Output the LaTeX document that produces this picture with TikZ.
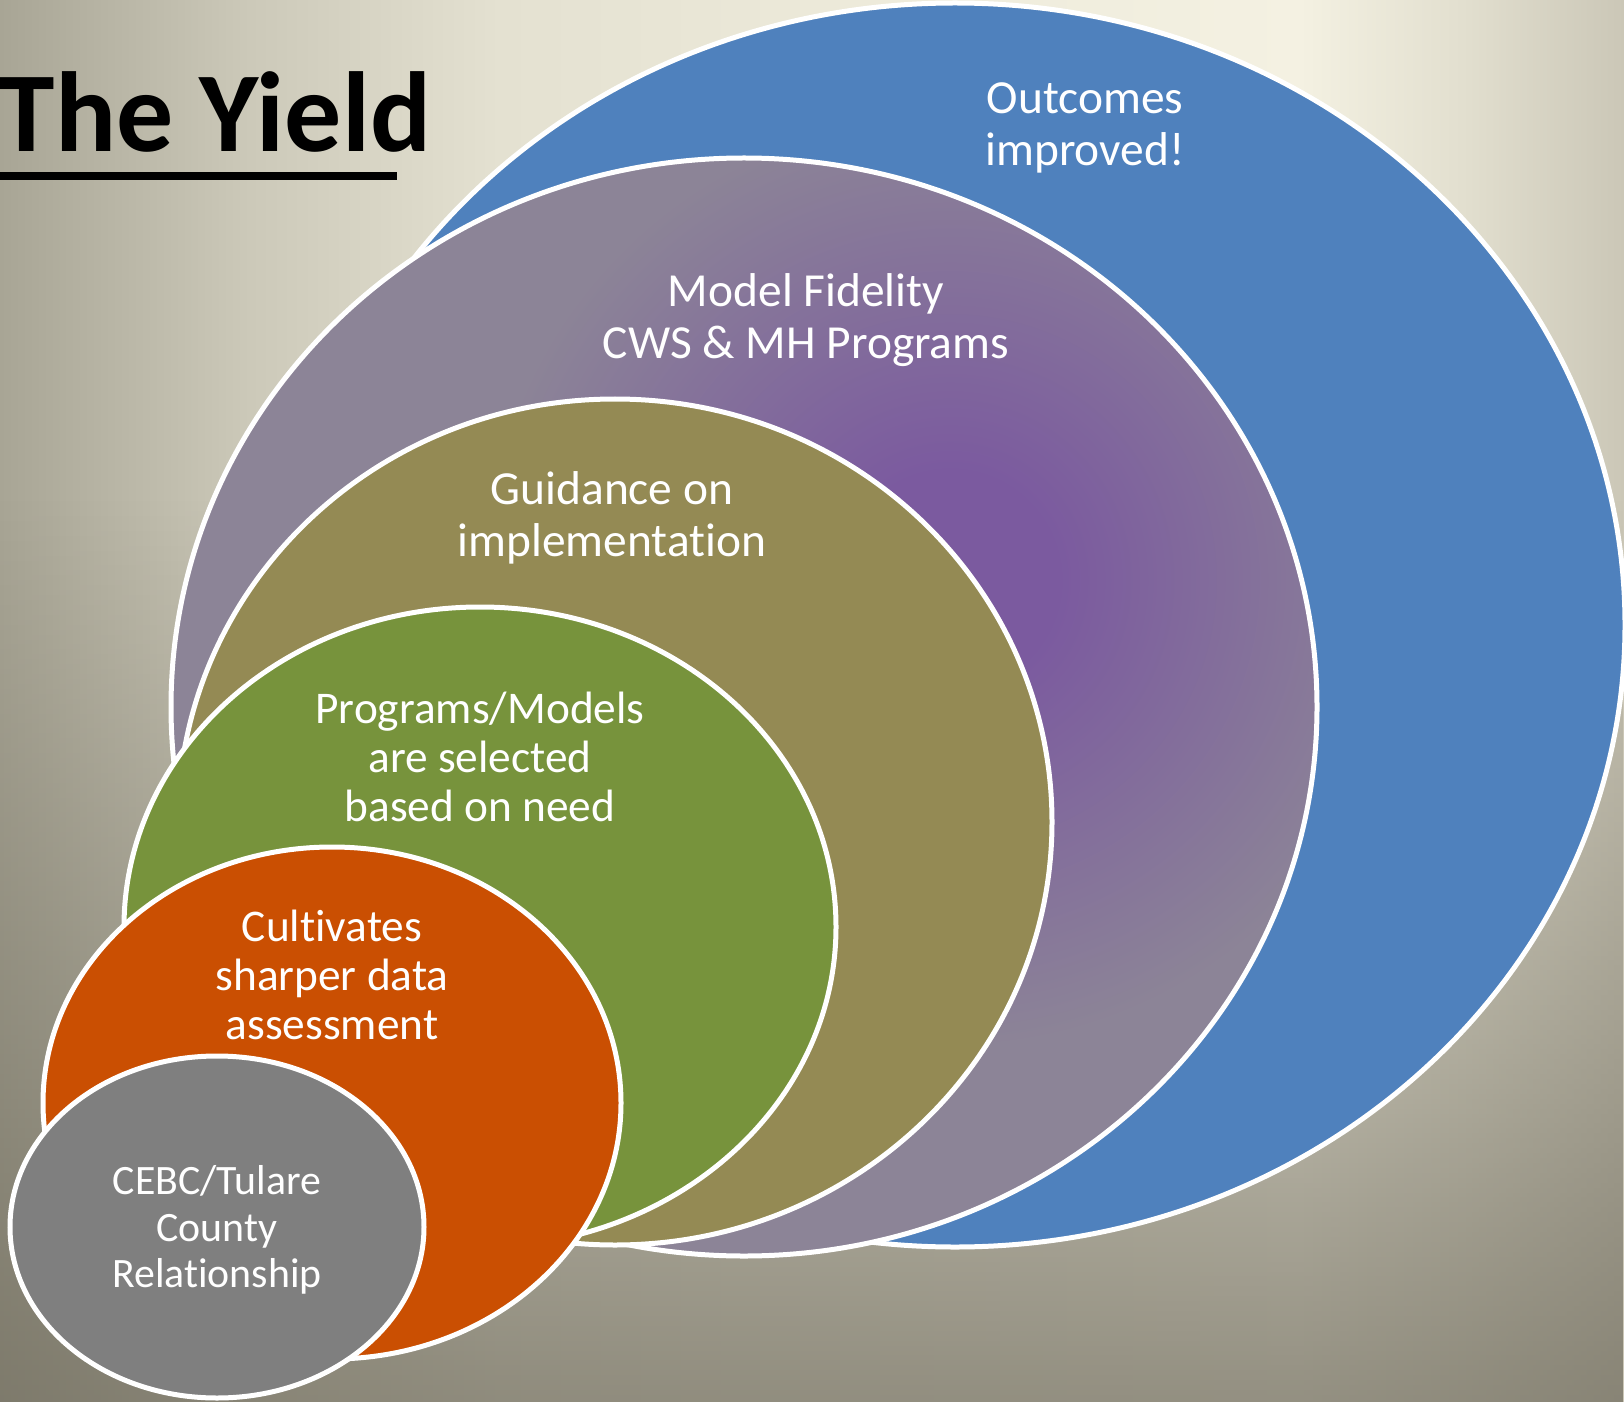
\documentclass[tikz,border=0pt]{standalone}
\usepackage{fontspec}
\setmainfont{Carlito}[Ligatures=NoCommon]
\usetikzlibrary{fadings}
\definecolor{bgA}{HTML}{A8A595}
\definecolor{bgB}{HTML}{CCC9B9}
\definecolor{bgC}{HTML}{E4E1D1}
\definecolor{bgD}{HTML}{EEEBDB}
\definecolor{bgE}{HTML}{F4F1E2}
\definecolor{bgF}{HTML}{E2DFCF}
\definecolor{bgG}{HTML}{CBC7B7}
\definecolor{bgdark}{HTML}{6E6A5C}
\definecolor{cblue}{HTML}{4F81BD}
\definecolor{purpIn}{HTML}{7B5A9F}
\definecolor{purpOut}{HTML}{8C8497}
\definecolor{colive}{HTML}{948A54}
\definecolor{cgreen}{HTML}{77933C}
\definecolor{corange}{HTML}{CA4F02}
\definecolor{cgray}{HTML}{7F7F7F}
% the path box maps to the 25bp--75bp part of each shading
\pgfdeclarehorizontalshading{bgh}{100bp}{color(0bp)=(bgA); color(25bp)=(bgA); color(32.7bp)=(bgB); color(40.4bp)=(bgC); color(52.7bp)=(bgD); color(65bp)=(bgE); color(70bp)=(bgF); color(75bp)=(bgG); color(100bp)=(bgG)}
\pgfdeclareverticalshading{vfadeshade}{100bp}{color(0bp)=(black!28); color(25bp)=(black!28); color(57.2bp)=(black); color(100bp)=(black)}
\pgfdeclarefading{vfade}{\pgfuseshading{vfadeshade}}
\pgfdeclareradialshading{purpsh}{\pgfpoint{0bp}{0bp}}{color(0bp)=(purpIn); color(3bp)=(purpIn); color(13bp)=(purpOut); color(50bp)=(purpOut)}
\tikzset{
  ring/.style={draw=white, line width=0.5mm},
  lbl/.style={text=white, align=center, inner sep=0pt, font=\fontsize{13.5}{14.6}\selectfont},
  lblmid/.style={text=white, align=center, inner sep=0pt, font=\fontsize{12.9}{13.9}\selectfont},
  lblsmall/.style={text=white, align=center, inner sep=0pt, font=\fontsize{11.9}{13.2}\selectfont}
}
\begin{document}
\begin{tikzpicture}[x=0.1mm,y=-0.1mm]
\useasboundingbox (0,0) rectangle (1624,1402);
\shade[shading=bgh] (0,0) rectangle (1624,1402);
\fill[bgdark, path fading=vfade] (0,0) rectangle (1624,1402);
\begin{scope}
\clip (0,0) rectangle (1624,1402);
% blue
\fill[cblue] (955,625) ellipse [x radius=670, y radius=622];
\draw[ring] (955,625) ellipse [x radius=670, y radius=622];
% purple
\begin{scope}
\clip (744,707) ellipse [x radius=573, y radius=549];
\shade[shading=purpsh] (950,580) circle [radius=900];
\end{scope}
\draw[ring] (744,707) ellipse [x radius=573, y radius=549];
% olive
\fill[colive] (615,822) ellipse [x radius=437, y radius=423];
\draw[ring] (615,822) ellipse [x radius=437, y radius=423];
% green
\fill[cgreen] (480,927) ellipse [x radius=356, y radius=320];
\draw[ring] (480,927) ellipse [x radius=356, y radius=320];
% orange
\fill[corange] (332,1103) ellipse [x radius=289, y radius=256];
\draw[ring] (332,1103) ellipse [x radius=289, y radius=256];
% gray
\fill[cgray] (217,1227) ellipse [x radius=207, y radius=171];
\draw[ring] (217,1227) ellipse [x radius=207, y radius=171];
\end{scope}
% title
\node[anchor=base west, inner sep=0pt, font=\bfseries\fontsize{32.4}{32.4}\selectfont] (title) at (-2,152) {The Yield};
\draw[line width=0.8mm] (0,176) -- (397,176);
% labels
\node[lbl] (outcomes) at (1085,128) {Outcomes\\improved!};
\node[lbl] (fidelity) at (806,320) {Model Fidelity\\CWS \& MH Programs};
\node[lbl] (guidance) at (612,518) {Guidance on\\implementation};
\node[lblmid] (programs) at (480,757) {Programs/Models\\are selected\\based on need};
\node[lblmid] (cultivates) at (332,975) {Cultivates\\sharper data\\assessment};
\node[lblsmall] (cebc) at (217,1230) {CEBC/Tulare\\County\\Relationship};
\end{tikzpicture}
\end{document}
